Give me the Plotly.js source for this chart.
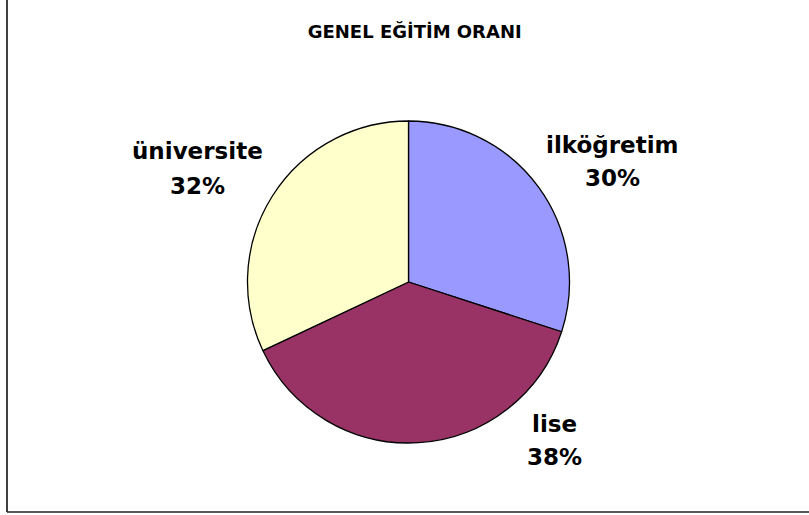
<!DOCTYPE html>
<html>
<head>
<meta charset="utf-8">
<script src="https://cdn.plot.ly/plotly-3.0.1.min.js"></script>
<style>
html,body{margin:0;padding:0;background:#fff;}
#chart{width:809px;height:515px;}
</style>
</head>
<body>
<div id="chart"></div>
<script>
const chartTitle = "GENEL EĞİTİM ORANI";
const categories = ["ilköğretim", "lise", "üniversite"];
const values = [30, 38, 32];
const sliceColors = ["#9999FF", "#993366", "#FFFFCC"];

const W = 809, H = 515;
const total = values.reduce((a, b) => a + b, 0);
const percents = values.map(v => Math.round(v / total * 100) + "%");

// label anchor points in pixels (layout only): [x, name line y, percent line y]
const labelPx = [[612.5, 145, 178], [554, 424, 457], [197, 151, 185.5]];

const labelFont = {family: "DejaVu Sans", size: 23, color: "#000000", weight: 700};

const annotations = [];
categories.forEach((c, i) => {
  annotations.push({
    xref: "paper", yref: "paper",
    x: labelPx[i][0] / W, y: 1 - labelPx[i][1] / H,
    xanchor: "center", yanchor: "middle",
    text: c, showarrow: false, font: labelFont
  });
  annotations.push({
    xref: "paper", yref: "paper",
    x: labelPx[i][0] / W, y: 1 - labelPx[i][2] / H,
    xanchor: "center", yanchor: "middle",
    text: percents[i], showarrow: false, font: labelFont
  });
});

const cx = 408.5, cy = 282, r = 161;

const data = [{
  type: "pie",
  labels: categories,
  values: values,
  sort: false,
  direction: "clockwise",
  rotation: 0,
  marker: {colors: sliceColors, line: {color: "#000000", width: 1.3}},
  textinfo: "none",
  hoverinfo: "label+percent",
  showlegend: false,
  domain: {
    x: [(cx - r) / W, (cx + r) / W],
    y: [1 - (cy + r) / H, 1 - (cy - r) / H]
  }
}];

const layout = {
  width: W, height: H,
  margin: {l: 0, r: 0, t: 0, b: 0},
  paper_bgcolor: "#ffffff",
  plot_bgcolor: "#ffffff",
  showlegend: false,
  title: {
    text: chartTitle,
    x: 414.7 / W, y: 1 - 32 / H,
    xref: "paper", yref: "paper",
    xanchor: "center", yanchor: "middle",
    font: {family: "DejaVu Sans", size: 18, color: "#000000", weight: 700}
  },
  annotations: annotations,
  shapes: [
    {type: "line", xref: "paper", yref: "paper",
     x0: 7 / W, x1: 7 / W, y0: 1 - 512 / H, y1: 1.05,
     line: {color: "#000000", width: 1.5}},
    {type: "line", xref: "paper", yref: "paper",
     x0: 7 / W, x1: 1.05, y0: 1 - 512 / H, y1: 1 - 512 / H,
     line: {color: "#222222", width: 1.5}}
  ]
};

Plotly.newPlot("chart", data, layout, {displayModeBar: false, staticPlot: true});
</script>
</body>
</html>
